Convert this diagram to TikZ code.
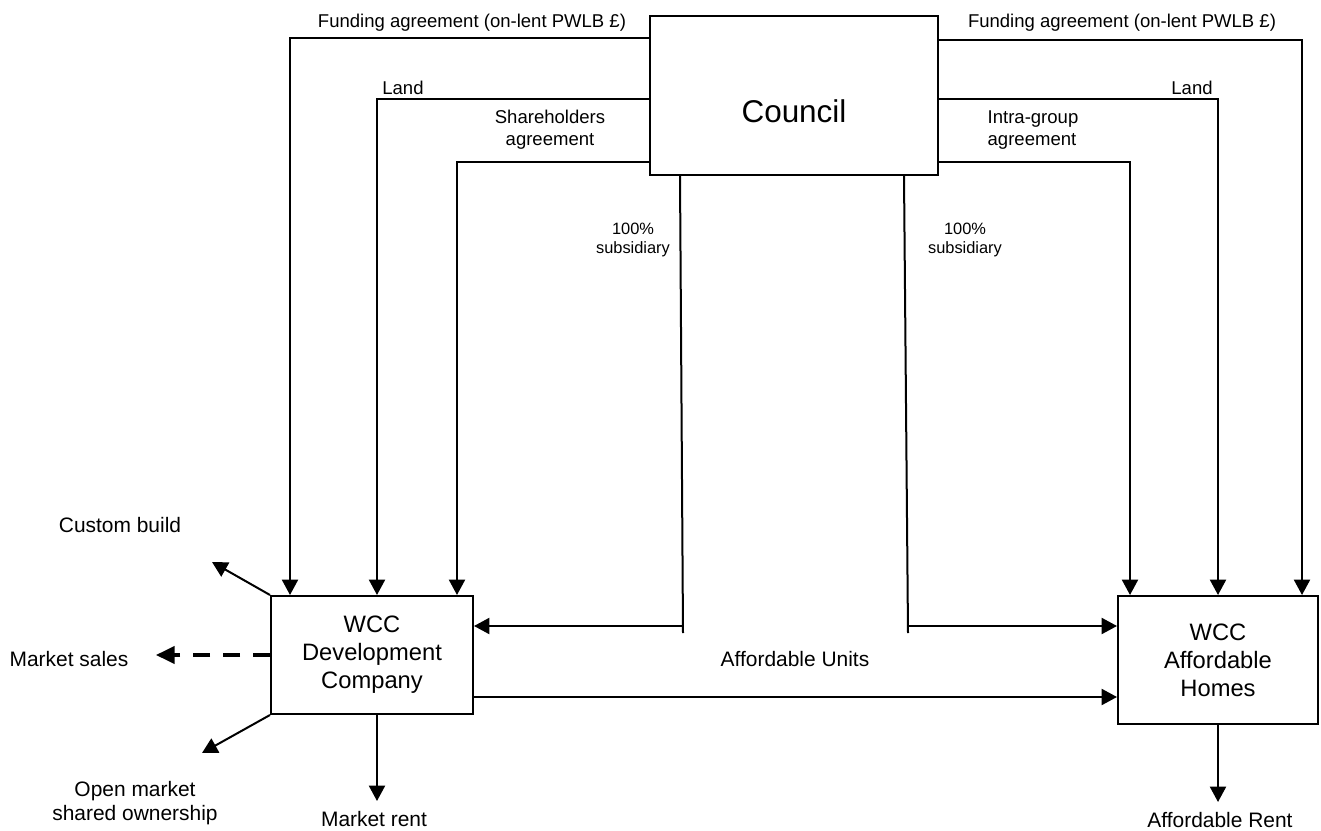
\documentclass[tikz,border=0pt]{standalone}
\usepackage{fontspec}
\setmainfont{Liberation Sans}
\usetikzlibrary{arrows.meta}

\begin{document}
\begin{tikzpicture}[x=0.75pt, y=-0.75pt, >={Triangle[length=11.5pt,width=12pt]},
  box/.style={draw, line width=1.5pt, inner sep=0pt, align=center},
  conn/.style={->, line width=1.5pt},
  lbl/.style={inner sep=0pt, align=center, font=\fontsize{13.9}{16.3}\selectfont},
  sublbl/.style={inner sep=0pt, align=center, font=\fontsize{12.3}{14.5}\selectfont},
  outlbl/.style={inner sep=0pt, align=center, font=\fontsize{15.7}{18.3}\selectfont}]

\useasboundingbox (0,0) rectangle (1321,831);

% Boxes
\node[box, minimum width=216pt, minimum height=119.25pt, text height=41pt, text depth=0pt,
  font=\fontsize{23.6}{28}\selectfont] (council) at (794,95.5) {Council};
\node[box, minimum width=151.5pt, minimum height=88.5pt,
  font=\fontsize{17.8}{21}\selectfont] (devco) at (372,655) {WCC\\Development\\Company};
\node[box, minimum width=150pt, minimum height=96pt,
  font=\fontsize{17.8}{21}\selectfont] (homes) at (1218,660) {WCC\\Affordable\\Homes};

% Labels along the top
\node[lbl] (fundLlbl) at (472,23) {Funding agreement (on-lent PWLB £)};
\node[lbl] (landLlbl) at (403,88) {Land};
\node[lbl] (shareLbl) at (550,130) {Shareholders\\agreement};
\node[lbl] (fundRlbl) at (1122,23) {Funding agreement (on-lent PWLB £)};
\node[lbl] (landRlbl) at (1192,88) {Land};
\node[lbl, align=left] (intraLbl) at (1033,130) {Intra-group\\agreement};
\node[sublbl] (subLlbl) at (633,240) {100\%\\subsidiary};
\node[sublbl] (subRlbl) at (965,240) {100\%\\subsidiary};

% Labels round the companies
\node[outlbl] (customLbl) at (120,525) {Custom build};
\node[outlbl] (salesLbl) at (69,659) {Market sales};
\node[outlbl] (openLbl) at (135,803) {Open market\\shared ownership};
\node[outlbl] (rentLbl) at (374,819.5) {Market rent};
\node[outlbl] (unitsLbl) at (795,659) {Affordable Units};
\node[outlbl] (affRentLbl) at (1220,820) {Affordable Rent};

% Council to development company
\draw[conn] (council.west |- 0,38) -| (290,0 |- devco.north);
\draw[conn] (council.west |- 0,99) -| (377,0 |- devco.north);
\draw[conn] (council.west |- 0,162) -| (457,0 |- devco.north);

% Council to affordable homes
\draw[conn] (council.east |- 0,40) -| (1302,0 |- homes.north);
\draw[conn] (council.east |- 0,99) -| (homes.north);
\draw[conn] (council.east |- 0,162) -| (1130,0 |- homes.north);

% 100% subsidiary
\coordinate (subLend) at (683,633);
\coordinate (subRend) at (908,633);
\draw[line width=1.5pt] (council.south -| 680,0) -- (subLend);
\draw[conn] (subLend |- 0,626) -- (devco.east |- 0,626);
\draw[line width=1.5pt] (council.south -| 904,0) -- (subRend);
\draw[conn] (subRend |- 0,626) -- (homes.west |- 0,626);

% Affordable units
\draw[conn] (devco.east |- 0,697) -- (homes.west |- 0,697);

% Outputs
\coordinate (customEnd) at (212,562);
\coordinate (salesEnd) at (156,655);
\coordinate (openEnd) at (202,753);
\draw[conn] (devco.north west) -- (customEnd);
\draw[->, >={Triangle[length=14pt,width=13pt]}, line width=2.4pt, dash pattern=on 12.75pt off 9.75pt]
  (devco.west) -- (salesEnd);
\draw[conn] (devco.south west) -- (openEnd);
\draw[conn] (devco.south -| 377,0) -- (377,801);
\draw[conn] (homes.south) -- (homes.south |- 0,802);

\end{tikzpicture}
\end{document}
